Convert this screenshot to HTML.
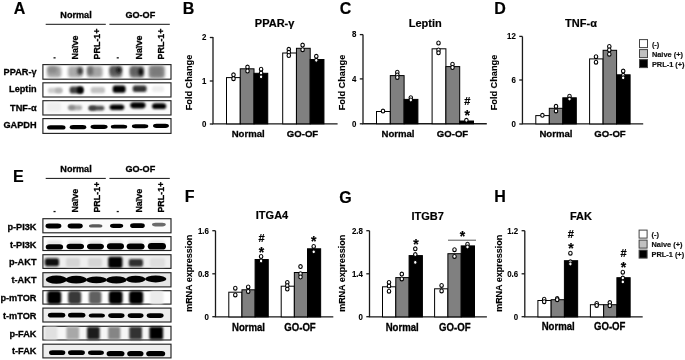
<!DOCTYPE html>
<html><head><meta charset="utf-8"><style>
html,body{margin:0;padding:0;background:#fff;}
body{width:685px;height:360px;overflow:hidden;}
svg{display:block;font-family:"Liberation Sans", sans-serif;filter:blur(0.3px);}
</style></head><body>
<svg width="685" height="360" viewBox="0 0 685 360">
<rect width="685" height="360" fill="#fff"/>
<text x="13.8" y="14.0" font-size="16" text-anchor="start" font-weight="bold" fill="#000" stroke="#000" stroke-width="0.18">A</text>
<text x="182.8" y="14.0" font-size="16" text-anchor="start" font-weight="bold" fill="#000" stroke="#000" stroke-width="0.18">B</text>
<text x="339.8" y="14.0" font-size="16" text-anchor="start" font-weight="bold" fill="#000" stroke="#000" stroke-width="0.18">C</text>
<text x="494.2" y="14.0" font-size="16" text-anchor="start" font-weight="bold" fill="#000" stroke="#000" stroke-width="0.18">D</text>
<text x="13.0" y="181.6" font-size="16" text-anchor="start" font-weight="bold" fill="#000" stroke="#000" stroke-width="0.18">E</text>
<text x="184.8" y="202.4" font-size="16" text-anchor="start" font-weight="bold" fill="#000" stroke="#000" stroke-width="0.18">F</text>
<text x="339.2" y="202.6" font-size="16" text-anchor="start" font-weight="bold" fill="#000" stroke="#000" stroke-width="0.18">G</text>
<text x="494.3" y="202.4" font-size="16" text-anchor="start" font-weight="bold" fill="#000" stroke="#000" stroke-width="0.18">H</text>
<path d="M213 37 V123.85 H337.6" stroke="#1a1a1a" stroke-width="1.3" fill="none"/>
<path d="M209.8 37.5 H213" stroke="#1a1a1a" stroke-width="1.3"/>
<text transform="translate(206.4 40.3) scale(1 1.08)" font-size="7.9" text-anchor="end" font-weight="bold" fill="#000" stroke="#000" stroke-width="0.1">2</text>
<path d="M209.8 81 H213" stroke="#1a1a1a" stroke-width="1.3"/>
<text transform="translate(206.4 83.8) scale(1 1.08)" font-size="7.9" text-anchor="end" font-weight="bold" fill="#000" stroke="#000" stroke-width="0.1">1</text>
<path d="M209.8 124 H213" stroke="#1a1a1a" stroke-width="1.3"/>
<text transform="translate(206.4 126.8) scale(1 1.08)" font-size="7.9" text-anchor="end" font-weight="bold" fill="#000" stroke="#000" stroke-width="0.1">0</text>
<rect x="226.50" y="77.60" width="13.75" height="46.25" fill="#fff" stroke="#000" stroke-width="1"/>
<rect x="240.25" y="68.80" width="13.75" height="55.05" fill="#808080" stroke="#000" stroke-width="1"/>
<rect x="254.00" y="73.30" width="13.75" height="50.55" fill="#000" stroke="#000" stroke-width="1"/>
<rect x="282.70" y="53.00" width="13.75" height="70.85" fill="#fff" stroke="#000" stroke-width="1"/>
<rect x="296.45" y="48.30" width="13.75" height="75.55" fill="#808080" stroke="#000" stroke-width="1"/>
<rect x="310.20" y="59.50" width="13.75" height="64.35" fill="#000" stroke="#000" stroke-width="1"/>
<ellipse cx="233.5" cy="74.8" rx="1.75" ry="1.95" fill="#fff" stroke="#000" stroke-width="1.1"/>
<ellipse cx="233.5" cy="78.7" rx="1.75" ry="1.95" fill="#fff" stroke="#000" stroke-width="1.1"/>
<ellipse cx="247.5" cy="67.1" rx="1.75" ry="1.95" fill="#fff" stroke="#000" stroke-width="1.1"/>
<ellipse cx="247.5" cy="71" rx="1.75" ry="1.95" fill="#fff" stroke="#000" stroke-width="1.1"/>
<ellipse cx="261.1" cy="69.2" rx="1.75" ry="1.95" fill="#fff" stroke="#000" stroke-width="1.1"/>
<ellipse cx="261.1" cy="73.1" rx="1.75" ry="1.95" fill="#fff" stroke="#000" stroke-width="1.1"/>
<ellipse cx="261.1" cy="76.8" rx="1.75" ry="1.95" fill="#fff" stroke="#000" stroke-width="1.1"/>
<ellipse cx="288.8" cy="49.3" rx="1.75" ry="1.95" fill="#fff" stroke="#000" stroke-width="1.1"/>
<ellipse cx="288.8" cy="52.3" rx="1.75" ry="1.95" fill="#fff" stroke="#000" stroke-width="1.1"/>
<ellipse cx="288.8" cy="55.5" rx="1.75" ry="1.95" fill="#fff" stroke="#000" stroke-width="1.1"/>
<ellipse cx="302.6" cy="45.1" rx="1.75" ry="1.95" fill="#fff" stroke="#000" stroke-width="1.1"/>
<ellipse cx="302.6" cy="49.7" rx="1.75" ry="1.95" fill="#fff" stroke="#000" stroke-width="1.1"/>
<ellipse cx="316.3" cy="56.3" rx="1.75" ry="1.95" fill="#fff" stroke="#000" stroke-width="1.1"/>
<ellipse cx="316.3" cy="60.3" rx="1.75" ry="1.95" fill="#fff" stroke="#000" stroke-width="1.1"/>
<text x="274.6" y="27" font-size="11" text-anchor="middle" font-weight="bold" fill="#000" stroke="#000" stroke-width="0.18">PPAR-&#947;</text>
<text transform="translate(191.6 82.5) rotate(-90) scale(1 1.08)" font-size="9.2" text-anchor="middle" font-weight="bold" fill="#000" stroke="#000" stroke-width="0.12">Fold Change</text>
<text transform="translate(248.2 137.2) scale(1 1.04)" font-size="9.6" text-anchor="middle" font-weight="bold" fill="#000" stroke="#000" stroke-width="0.28">Normal</text>
<text transform="translate(302.5 137.2) scale(1 1.04)" font-size="9.6" text-anchor="middle" font-weight="bold" fill="#000" stroke="#000" stroke-width="0.28">GO-OF</text>
<path d="M363 34.6 V123.75 H486.8" stroke="#1a1a1a" stroke-width="1.3" fill="none"/>
<path d="M359.8 34.6 H363" stroke="#1a1a1a" stroke-width="1.3"/>
<text transform="translate(356.4 37.4) scale(1 1.08)" font-size="7.9" text-anchor="end" font-weight="bold" fill="#000" stroke="#000" stroke-width="0.1">8</text>
<path d="M359.8 78.9 H363" stroke="#1a1a1a" stroke-width="1.3"/>
<text transform="translate(356.4 81.7) scale(1 1.08)" font-size="7.9" text-anchor="end" font-weight="bold" fill="#000" stroke="#000" stroke-width="0.1">4</text>
<path d="M359.8 123.8 H363" stroke="#1a1a1a" stroke-width="1.3"/>
<text transform="translate(356.4 126.6) scale(1 1.08)" font-size="7.9" text-anchor="end" font-weight="bold" fill="#000" stroke="#000" stroke-width="0.1">0</text>
<rect x="376.50" y="111.50" width="13.80" height="12.25" fill="#fff" stroke="#000" stroke-width="1"/>
<rect x="390.30" y="75.60" width="13.80" height="48.15" fill="#808080" stroke="#000" stroke-width="1"/>
<rect x="404.10" y="99.40" width="13.80" height="24.35" fill="#000" stroke="#000" stroke-width="1"/>
<rect x="432.10" y="48.80" width="13.80" height="74.95" fill="#fff" stroke="#000" stroke-width="1"/>
<rect x="445.90" y="66.60" width="13.80" height="57.15" fill="#808080" stroke="#000" stroke-width="1"/>
<rect x="459.70" y="121.00" width="13.80" height="2.75" fill="#000" stroke="#000" stroke-width="1"/>
<ellipse cx="383" cy="111.1" rx="1.75" ry="1.95" fill="#fff" stroke="#000" stroke-width="1.1"/>
<ellipse cx="397.3" cy="72.2" rx="1.75" ry="1.95" fill="#fff" stroke="#000" stroke-width="1.1"/>
<ellipse cx="397.3" cy="75" rx="1.75" ry="1.95" fill="#fff" stroke="#000" stroke-width="1.1"/>
<ellipse cx="397.3" cy="77.4" rx="1.75" ry="1.95" fill="#fff" stroke="#000" stroke-width="1.1"/>
<ellipse cx="410.8" cy="97.7" rx="1.75" ry="1.95" fill="#fff" stroke="#000" stroke-width="1.1"/>
<ellipse cx="410.8" cy="100" rx="1.75" ry="1.95" fill="#fff" stroke="#000" stroke-width="1.1"/>
<ellipse cx="438.5" cy="43" rx="1.75" ry="1.95" fill="#fff" stroke="#000" stroke-width="1.1"/>
<ellipse cx="438.5" cy="50" rx="1.75" ry="1.95" fill="#fff" stroke="#000" stroke-width="1.1"/>
<ellipse cx="438.5" cy="52.8" rx="1.75" ry="1.95" fill="#fff" stroke="#000" stroke-width="1.1"/>
<ellipse cx="452.5" cy="64.2" rx="1.75" ry="1.95" fill="#fff" stroke="#000" stroke-width="1.1"/>
<ellipse cx="452.5" cy="67.5" rx="1.75" ry="1.95" fill="#fff" stroke="#000" stroke-width="1.1"/>
<ellipse cx="466.4" cy="120.3" rx="1.75" ry="1.95" fill="#fff" stroke="#000" stroke-width="1.1"/>
<text x="425.2" y="26.9" font-size="11" text-anchor="middle" font-weight="bold" fill="#000" stroke="#000" stroke-width="0.18">Leptin</text>
<text transform="translate(345.2 82.5) rotate(-90) scale(1 1.08)" font-size="9.2" text-anchor="middle" font-weight="bold" fill="#000" stroke="#000" stroke-width="0.12">Fold Change</text>
<text transform="translate(398 137.2) scale(1 1.04)" font-size="9.6" text-anchor="middle" font-weight="bold" fill="#000" stroke="#000" stroke-width="0.28">Normal</text>
<text transform="translate(452.5 137.2) scale(1 1.04)" font-size="9.6" text-anchor="middle" font-weight="bold" fill="#000" stroke="#000" stroke-width="0.28">GO-OF</text>
<text x="467.4" y="104.89999999999999" font-size="11" text-anchor="middle" font-weight="bold" fill="#000" stroke="#000" stroke-width="0.18">#</text>
<text x="467.29999999999995" y="119.5" font-size="14" text-anchor="middle" font-weight="bold" fill="#000" stroke="#000" stroke-width="0.18">*</text>
<path d="M522.45 36.4 V123.9 H643.2" stroke="#1a1a1a" stroke-width="1.3" fill="none"/>
<path d="M519.25 36.4 H522.45" stroke="#1a1a1a" stroke-width="1.3"/>
<text transform="translate(515.85 39.199999999999996) scale(1 1.08)" font-size="7.9" text-anchor="end" font-weight="bold" fill="#000" stroke="#000" stroke-width="0.1">12</text>
<path d="M519.25 80 H522.45" stroke="#1a1a1a" stroke-width="1.3"/>
<text transform="translate(515.85 82.8) scale(1 1.08)" font-size="7.9" text-anchor="end" font-weight="bold" fill="#000" stroke="#000" stroke-width="0.1">6</text>
<path d="M519.25 124 H522.45" stroke="#1a1a1a" stroke-width="1.3"/>
<text transform="translate(515.85 126.8) scale(1 1.08)" font-size="7.9" text-anchor="end" font-weight="bold" fill="#000" stroke="#000" stroke-width="0.1">0</text>
<rect x="535.80" y="115.60" width="13.50" height="8.30" fill="#fff" stroke="#000" stroke-width="1"/>
<rect x="549.30" y="108.30" width="13.50" height="15.60" fill="#808080" stroke="#000" stroke-width="1"/>
<rect x="562.80" y="97.80" width="13.50" height="26.10" fill="#000" stroke="#000" stroke-width="1"/>
<rect x="589.60" y="58.90" width="13.50" height="65.00" fill="#fff" stroke="#000" stroke-width="1"/>
<rect x="603.10" y="50.30" width="13.50" height="73.60" fill="#808080" stroke="#000" stroke-width="1"/>
<rect x="616.60" y="74.80" width="13.50" height="49.10" fill="#000" stroke="#000" stroke-width="1"/>
<ellipse cx="542.4" cy="115.3" rx="1.75" ry="1.95" fill="#fff" stroke="#000" stroke-width="1.1"/>
<ellipse cx="556" cy="106.3" rx="1.75" ry="1.95" fill="#fff" stroke="#000" stroke-width="1.1"/>
<ellipse cx="556" cy="110.9" rx="1.75" ry="1.95" fill="#fff" stroke="#000" stroke-width="1.1"/>
<ellipse cx="569.5" cy="96.2" rx="1.75" ry="1.95" fill="#fff" stroke="#000" stroke-width="1.1"/>
<ellipse cx="569.5" cy="99.1" rx="1.75" ry="1.95" fill="#fff" stroke="#000" stroke-width="1.1"/>
<ellipse cx="596" cy="56.7" rx="1.75" ry="1.95" fill="#fff" stroke="#000" stroke-width="1.1"/>
<ellipse cx="596" cy="62.2" rx="1.75" ry="1.95" fill="#fff" stroke="#000" stroke-width="1.1"/>
<ellipse cx="609.3" cy="46.4" rx="1.75" ry="1.95" fill="#fff" stroke="#000" stroke-width="1.1"/>
<ellipse cx="609.3" cy="50" rx="1.75" ry="1.95" fill="#fff" stroke="#000" stroke-width="1.1"/>
<ellipse cx="609.3" cy="54.2" rx="1.75" ry="1.95" fill="#fff" stroke="#000" stroke-width="1.1"/>
<ellipse cx="623.2" cy="71.1" rx="1.75" ry="1.95" fill="#fff" stroke="#000" stroke-width="1.1"/>
<ellipse cx="623.2" cy="75.3" rx="1.75" ry="1.95" fill="#fff" stroke="#000" stroke-width="1.1"/>
<ellipse cx="623.2" cy="77.8" rx="1.75" ry="1.95" fill="#fff" stroke="#000" stroke-width="1.1"/>
<text x="581" y="27" font-size="11" text-anchor="middle" font-weight="bold" fill="#000" stroke="#000" stroke-width="0.18">TNF-&#945;</text>
<text transform="translate(496.9 82.5) rotate(-90) scale(1 1.08)" font-size="9.2" text-anchor="middle" font-weight="bold" fill="#000" stroke="#000" stroke-width="0.12">Fold Change</text>
<text transform="translate(555.9 137.2) scale(1 1.04)" font-size="9.6" text-anchor="middle" font-weight="bold" fill="#000" stroke="#000" stroke-width="0.28">Normal</text>
<text transform="translate(610 137.2) scale(1 1.04)" font-size="9.6" text-anchor="middle" font-weight="bold" fill="#000" stroke="#000" stroke-width="0.28">GO-OF</text>
<rect x="639.5" y="39.6" width="8" height="8" fill="#fff" stroke="#444" stroke-width="1"/>
<text x="651.9" y="46.6" font-size="7.4" text-anchor="start" font-weight="bold" fill="#111" stroke="#111" stroke-width="0.18">(-)</text>
<rect x="639.5" y="49.6" width="8" height="8" fill="#c0c0c0" stroke="#444" stroke-width="1"/>
<text x="651.9" y="56.6" font-size="7.4" text-anchor="start" font-weight="bold" fill="#111" stroke="#111" stroke-width="0.18">Naive (+)</text>
<rect x="639.5" y="59.6" width="8" height="8" fill="#000" stroke="#444" stroke-width="1"/>
<text x="651.9" y="66.6" font-size="7.4" text-anchor="start" font-weight="bold" fill="#111" stroke="#111" stroke-width="0.18">PRL-1 (+)</text>
<path d="M215.5 230.7 V316.9 H333.3" stroke="#1a1a1a" stroke-width="1.3" fill="none"/>
<path d="M212.3 230.7 H215.5" stroke="#1a1a1a" stroke-width="1.3"/>
<text transform="translate(208.9 233.5) scale(1 1.08)" font-size="7.9" text-anchor="end" font-weight="bold" fill="#000" stroke="#000" stroke-width="0.1">1.6</text>
<path d="M212.3 273.8 H215.5" stroke="#1a1a1a" stroke-width="1.3"/>
<text transform="translate(208.9 276.6) scale(1 1.08)" font-size="7.9" text-anchor="end" font-weight="bold" fill="#000" stroke="#000" stroke-width="0.1">0.8</text>
<path d="M212.3 316.7 H215.5" stroke="#1a1a1a" stroke-width="1.3"/>
<text transform="translate(208.9 319.5) scale(1 1.08)" font-size="7.9" text-anchor="end" font-weight="bold" fill="#000" stroke="#000" stroke-width="0.1">0</text>
<rect x="228.80" y="292.20" width="13.15" height="24.70" fill="#fff" stroke="#000" stroke-width="1"/>
<rect x="241.95" y="289.80" width="13.15" height="27.10" fill="#808080" stroke="#000" stroke-width="1"/>
<rect x="255.10" y="259.50" width="13.15" height="57.40" fill="#000" stroke="#000" stroke-width="1"/>
<rect x="281.20" y="286.20" width="13.15" height="30.70" fill="#fff" stroke="#000" stroke-width="1"/>
<rect x="294.35" y="272.50" width="13.15" height="44.40" fill="#808080" stroke="#000" stroke-width="1"/>
<rect x="307.50" y="248.80" width="13.15" height="68.10" fill="#000" stroke="#000" stroke-width="1"/>
<ellipse cx="235.3" cy="288.2" rx="1.75" ry="1.95" fill="#fff" stroke="#000" stroke-width="1.1"/>
<ellipse cx="235.3" cy="294.9" rx="1.75" ry="1.95" fill="#fff" stroke="#000" stroke-width="1.1"/>
<ellipse cx="248.2" cy="286.9" rx="1.75" ry="1.95" fill="#fff" stroke="#000" stroke-width="1.1"/>
<ellipse cx="248.2" cy="291.4" rx="1.75" ry="1.95" fill="#fff" stroke="#000" stroke-width="1.1"/>
<ellipse cx="261.1" cy="256.5" rx="1.75" ry="1.95" fill="#fff" stroke="#000" stroke-width="1.1"/>
<ellipse cx="261.1" cy="261" rx="1.75" ry="1.95" fill="#fff" stroke="#000" stroke-width="1.1"/>
<ellipse cx="287.3" cy="282.4" rx="1.75" ry="1.95" fill="#fff" stroke="#000" stroke-width="1.1"/>
<ellipse cx="287.3" cy="285.75" rx="1.75" ry="1.95" fill="#fff" stroke="#000" stroke-width="1.1"/>
<ellipse cx="287.3" cy="289.1" rx="1.75" ry="1.95" fill="#fff" stroke="#000" stroke-width="1.1"/>
<ellipse cx="300.5" cy="266.6" rx="1.75" ry="1.95" fill="#fff" stroke="#000" stroke-width="1.1"/>
<ellipse cx="300.5" cy="273.7" rx="1.75" ry="1.95" fill="#fff" stroke="#000" stroke-width="1.1"/>
<ellipse cx="300.5" cy="277" rx="1.75" ry="1.95" fill="#fff" stroke="#000" stroke-width="1.1"/>
<ellipse cx="313.7" cy="246.4" rx="1.75" ry="1.95" fill="#fff" stroke="#000" stroke-width="1.1"/>
<ellipse cx="313.7" cy="251.8" rx="1.75" ry="1.95" fill="#fff" stroke="#000" stroke-width="1.1"/>
<text x="272" y="218.9" font-size="11" text-anchor="middle" font-weight="bold" fill="#000" stroke="#000" stroke-width="0.18">ITGA4</text>
<text transform="translate(191.5 273.3) rotate(-90) scale(1 1.08)" font-size="9" text-anchor="middle" font-weight="bold" fill="#000" stroke="#000" stroke-width="0.12">mRNA expression</text>
<text transform="translate(248.5 330.7) scale(1 1.05)" font-size="9.6" text-anchor="middle" font-weight="bold" fill="#000" stroke="#000" stroke-width="0.28">Normal</text>
<text transform="translate(300 330.7) scale(1 1.05)" font-size="9.6" text-anchor="middle" font-weight="bold" fill="#000" stroke="#000" stroke-width="0.28">GO-OF</text>
<text x="261.5" y="241.79999999999998" font-size="11" text-anchor="middle" font-weight="bold" fill="#000" stroke="#000" stroke-width="0.18">#</text>
<text x="261.5" y="256.6" font-size="14" text-anchor="middle" font-weight="bold" fill="#000" stroke="#000" stroke-width="0.18">*</text>
<text x="313.7" y="245.9" font-size="14" text-anchor="middle" font-weight="bold" fill="#000" stroke="#000" stroke-width="0.18">*</text>
<path d="M369.5 230.7 V316.9 H486.9" stroke="#1a1a1a" stroke-width="1.3" fill="none"/>
<path d="M366.3 230.7 H369.5" stroke="#1a1a1a" stroke-width="1.3"/>
<text transform="translate(362.9 233.5) scale(1 1.08)" font-size="7.9" text-anchor="end" font-weight="bold" fill="#000" stroke="#000" stroke-width="0.1">2.8</text>
<path d="M366.3 273.8 H369.5" stroke="#1a1a1a" stroke-width="1.3"/>
<text transform="translate(362.9 276.6) scale(1 1.08)" font-size="7.9" text-anchor="end" font-weight="bold" fill="#000" stroke="#000" stroke-width="0.1">1.4</text>
<path d="M366.3 316.7 H369.5" stroke="#1a1a1a" stroke-width="1.3"/>
<text transform="translate(362.9 319.5) scale(1 1.08)" font-size="7.9" text-anchor="end" font-weight="bold" fill="#000" stroke="#000" stroke-width="0.1">0</text>
<rect x="382.50" y="286.80" width="13.30" height="30.10" fill="#fff" stroke="#000" stroke-width="1"/>
<rect x="395.80" y="277.60" width="13.30" height="39.30" fill="#808080" stroke="#000" stroke-width="1"/>
<rect x="409.10" y="255.60" width="13.30" height="61.30" fill="#000" stroke="#000" stroke-width="1"/>
<rect x="434.60" y="288.80" width="13.30" height="28.10" fill="#fff" stroke="#000" stroke-width="1"/>
<rect x="447.90" y="253.70" width="13.30" height="63.20" fill="#808080" stroke="#000" stroke-width="1"/>
<rect x="461.20" y="245.90" width="13.30" height="71.00" fill="#000" stroke="#000" stroke-width="1"/>
<ellipse cx="389" cy="282.4" rx="1.75" ry="1.95" fill="#fff" stroke="#000" stroke-width="1.1"/>
<ellipse cx="389" cy="286.1" rx="1.75" ry="1.95" fill="#fff" stroke="#000" stroke-width="1.1"/>
<ellipse cx="389" cy="291.2" rx="1.75" ry="1.95" fill="#fff" stroke="#000" stroke-width="1.1"/>
<ellipse cx="401.8" cy="274.1" rx="1.75" ry="1.95" fill="#fff" stroke="#000" stroke-width="1.1"/>
<ellipse cx="401.8" cy="278.9" rx="1.75" ry="1.95" fill="#fff" stroke="#000" stroke-width="1.1"/>
<ellipse cx="415.3" cy="248.8" rx="1.75" ry="1.95" fill="#fff" stroke="#000" stroke-width="1.1"/>
<ellipse cx="415.3" cy="254.6" rx="1.75" ry="1.95" fill="#fff" stroke="#000" stroke-width="1.1"/>
<ellipse cx="415.3" cy="262.4" rx="1.75" ry="1.95" fill="#fff" stroke="#000" stroke-width="1.1"/>
<ellipse cx="441.6" cy="285.4" rx="1.75" ry="1.95" fill="#fff" stroke="#000" stroke-width="1.1"/>
<ellipse cx="441.6" cy="290.9" rx="1.75" ry="1.95" fill="#fff" stroke="#000" stroke-width="1.1"/>
<ellipse cx="454.5" cy="249.7" rx="1.75" ry="1.95" fill="#fff" stroke="#000" stroke-width="1.1"/>
<ellipse cx="454.5" cy="256.4" rx="1.75" ry="1.95" fill="#fff" stroke="#000" stroke-width="1.1"/>
<ellipse cx="467.5" cy="244.2" rx="1.75" ry="1.95" fill="#fff" stroke="#000" stroke-width="1.1"/>
<ellipse cx="467.5" cy="247" rx="1.75" ry="1.95" fill="#fff" stroke="#000" stroke-width="1.1"/>
<text x="427.6" y="220.2" font-size="11" text-anchor="middle" font-weight="bold" fill="#000" stroke="#000" stroke-width="0.18">ITGB7</text>
<text transform="translate(345 273.3) rotate(-90) scale(1 1.08)" font-size="9" text-anchor="middle" font-weight="bold" fill="#000" stroke="#000" stroke-width="0.12">mRNA expression</text>
<text transform="translate(402.2 330.5) scale(1 1.05)" font-size="9.6" text-anchor="middle" font-weight="bold" fill="#000" stroke="#000" stroke-width="0.28">Normal</text>
<text transform="translate(454.8 330.5) scale(1 1.05)" font-size="9.6" text-anchor="middle" font-weight="bold" fill="#000" stroke="#000" stroke-width="0.28">GO-OF</text>
<text x="415.9" y="249.0" font-size="14" text-anchor="middle" font-weight="bold" fill="#000" stroke="#000" stroke-width="0.18">*</text>
<text x="462.4" y="241.3" font-size="14" text-anchor="middle" font-weight="bold" fill="#000" stroke="#000" stroke-width="0.18">*</text>
<path d="M448 240.2 H476" stroke="#555" stroke-width="1" fill="none"/>
<path d="M524.8 230.7 V316.9 H642.7" stroke="#1a1a1a" stroke-width="1.3" fill="none"/>
<path d="M521.5999999999999 230.7 H524.8" stroke="#1a1a1a" stroke-width="1.3"/>
<text transform="translate(518.1999999999999 233.5) scale(1 1.08)" font-size="7.9" text-anchor="end" font-weight="bold" fill="#000" stroke="#000" stroke-width="0.1">1.2</text>
<path d="M521.5999999999999 273.8 H524.8" stroke="#1a1a1a" stroke-width="1.3"/>
<text transform="translate(518.1999999999999 276.6) scale(1 1.08)" font-size="7.9" text-anchor="end" font-weight="bold" fill="#000" stroke="#000" stroke-width="0.1">0.6</text>
<path d="M521.5999999999999 316.7 H524.8" stroke="#1a1a1a" stroke-width="1.3"/>
<text transform="translate(518.1999999999999 319.5) scale(1 1.08)" font-size="7.9" text-anchor="end" font-weight="bold" fill="#000" stroke="#000" stroke-width="0.1">0</text>
<rect x="537.90" y="300.50" width="13.25" height="16.40" fill="#fff" stroke="#000" stroke-width="1"/>
<rect x="551.15" y="299.70" width="13.25" height="17.20" fill="#808080" stroke="#000" stroke-width="1"/>
<rect x="564.40" y="260.70" width="13.25" height="56.20" fill="#000" stroke="#000" stroke-width="1"/>
<rect x="590.40" y="304.70" width="13.25" height="12.20" fill="#fff" stroke="#000" stroke-width="1"/>
<rect x="603.65" y="304.70" width="13.25" height="12.20" fill="#808080" stroke="#000" stroke-width="1"/>
<rect x="616.90" y="277.70" width="13.25" height="39.20" fill="#000" stroke="#000" stroke-width="1"/>
<ellipse cx="544.2" cy="299.2" rx="1.75" ry="1.95" fill="#fff" stroke="#000" stroke-width="1.1"/>
<ellipse cx="544.2" cy="301.7" rx="1.75" ry="1.95" fill="#fff" stroke="#000" stroke-width="1.1"/>
<ellipse cx="557.2" cy="298.6" rx="1.75" ry="1.95" fill="#fff" stroke="#000" stroke-width="1.1"/>
<ellipse cx="557.2" cy="299.7" rx="1.75" ry="1.95" fill="#fff" stroke="#000" stroke-width="1.1"/>
<ellipse cx="570.4" cy="253.2" rx="1.75" ry="1.95" fill="#fff" stroke="#000" stroke-width="1.1"/>
<ellipse cx="570.4" cy="261.8" rx="1.75" ry="1.95" fill="#fff" stroke="#000" stroke-width="1.1"/>
<ellipse cx="570.4" cy="264" rx="1.75" ry="1.95" fill="#fff" stroke="#000" stroke-width="1.1"/>
<ellipse cx="596.7" cy="303.4" rx="1.75" ry="1.95" fill="#fff" stroke="#000" stroke-width="1.1"/>
<ellipse cx="596.7" cy="305.4" rx="1.75" ry="1.95" fill="#fff" stroke="#000" stroke-width="1.1"/>
<ellipse cx="609.8" cy="302.6" rx="1.75" ry="1.95" fill="#fff" stroke="#000" stroke-width="1.1"/>
<ellipse cx="609.8" cy="305.7" rx="1.75" ry="1.95" fill="#fff" stroke="#000" stroke-width="1.1"/>
<ellipse cx="622.8" cy="272.2" rx="1.75" ry="1.95" fill="#fff" stroke="#000" stroke-width="1.1"/>
<ellipse cx="622.8" cy="278.1" rx="1.75" ry="1.95" fill="#fff" stroke="#000" stroke-width="1.1"/>
<ellipse cx="622.8" cy="281.9" rx="1.75" ry="1.95" fill="#fff" stroke="#000" stroke-width="1.1"/>
<text x="581" y="220.2" font-size="11" text-anchor="middle" font-weight="bold" fill="#000" stroke="#000" stroke-width="0.18">FAK</text>
<text transform="translate(501.6 273.3) rotate(-90) scale(1 1.08)" font-size="9" text-anchor="middle" font-weight="bold" fill="#000" stroke="#000" stroke-width="0.12">mRNA expression</text>
<text transform="translate(558.2 330.3) scale(1 1.05)" font-size="9.6" text-anchor="middle" font-weight="bold" fill="#000" stroke="#000" stroke-width="0.28">Normal</text>
<text transform="translate(609.7 330.3) scale(1 1.05)" font-size="9.6" text-anchor="middle" font-weight="bold" fill="#000" stroke="#000" stroke-width="0.28">GO-OF</text>
<text x="570.7" y="237.79999999999998" font-size="11" text-anchor="middle" font-weight="bold" fill="#000" stroke="#000" stroke-width="0.18">#</text>
<text x="570.9" y="252.9" font-size="14" text-anchor="middle" font-weight="bold" fill="#000" stroke="#000" stroke-width="0.18">*</text>
<text x="623.5" y="256.8" font-size="11" text-anchor="middle" font-weight="bold" fill="#000" stroke="#000" stroke-width="0.18">#</text>
<text x="623.4" y="271.8" font-size="14" text-anchor="middle" font-weight="bold" fill="#000" stroke="#000" stroke-width="0.18">*</text>
<rect x="639.1" y="230.1" width="8" height="8" fill="#fff" stroke="#444" stroke-width="1"/>
<text x="651.5" y="237.1" font-size="7.4" text-anchor="start" font-weight="bold" fill="#111" stroke="#111" stroke-width="0.18">(-)</text>
<rect x="639.1" y="240.1" width="8" height="8" fill="#c0c0c0" stroke="#444" stroke-width="1"/>
<text x="651.5" y="247.1" font-size="7.4" text-anchor="start" font-weight="bold" fill="#111" stroke="#111" stroke-width="0.18">Naive (+)</text>
<rect x="639.1" y="250.1" width="8" height="8" fill="#000" stroke="#444" stroke-width="1"/>
<text x="651.5" y="257.1" font-size="7.4" text-anchor="start" font-weight="bold" fill="#111" stroke="#111" stroke-width="0.18">PRL-1 (+)</text>
<defs><filter id="b0" x="-50%" y="-50%" width="200%" height="200%"><feGaussianBlur stdDeviation="0.5"/></filter><filter id="b1" x="-50%" y="-50%" width="200%" height="200%"><feGaussianBlur stdDeviation="0.9"/></filter><filter id="b2" x="-50%" y="-50%" width="200%" height="200%"><feGaussianBlur stdDeviation="1.5"/></filter><filter id="b3" x="-50%" y="-50%" width="200%" height="200%"><feGaussianBlur stdDeviation="2.2"/></filter></defs>
<text transform="translate(76 17.9) scale(1 1.08)" font-size="9.1" text-anchor="middle" font-weight="bold" fill="#000" stroke="#000" stroke-width="0.28">Normal</text>
<text transform="translate(140.3 17.9) scale(1 1.08)" font-size="9.1" text-anchor="middle" font-weight="bold" fill="#000" stroke="#000" stroke-width="0.28">GO-OF</text>
<path d="M45.7 24.3 H105.8 M109.4 24.3 H169.8" stroke="#111" stroke-width="1"/>
<rect x="53.5" y="57.2" width="2.1" height="1.3" fill="#111"/>
<text transform="translate(78.2 59.4) rotate(-90) scale(1 1.12)" font-size="8.9" text-anchor="start" font-weight="bold" fill="#000" stroke="#000" stroke-width="0.28">Na&#239;ve</text>
<text transform="translate(99.9 59.4) rotate(-90) scale(1 1.12)" font-size="8.9" text-anchor="start" font-weight="bold" fill="#000" stroke="#000" stroke-width="0.28">PRL-1+</text>
<rect x="116.7" y="57.2" width="2.1" height="1.3" fill="#111"/>
<text transform="translate(141.5 59.4) rotate(-90) scale(1 1.12)" font-size="8.9" text-anchor="start" font-weight="bold" fill="#000" stroke="#000" stroke-width="0.28">Na&#239;ve</text>
<text transform="translate(163.7 59.4) rotate(-90) scale(1 1.12)" font-size="8.9" text-anchor="start" font-weight="bold" fill="#000" stroke="#000" stroke-width="0.28">PRL-1+</text>
<text transform="translate(36.6 74.6) scale(1 1.03)" font-size="9.2" text-anchor="end" font-weight="bold" fill="#000" stroke="#000" stroke-width="0.28">PPAR-&#947;</text>
<text transform="translate(36.6 91.6) scale(1 1.03)" font-size="9.2" text-anchor="end" font-weight="bold" fill="#000" stroke="#000" stroke-width="0.28">Leptin</text>
<text transform="translate(36.6 110.9) scale(1 1.03)" font-size="9.2" text-anchor="end" font-weight="bold" fill="#000" stroke="#000" stroke-width="0.28">TNF-&#945;</text>
<text transform="translate(36.6 128.3) scale(1 1.03)" font-size="9.2" text-anchor="end" font-weight="bold" fill="#000" stroke="#000" stroke-width="0.28">GAPDH</text>
<rect x="42.9" y="64.60" width="128.1" height="14.60" fill="#fff" stroke="#222" stroke-width="1.15"/>
<rect x="47.0" y="66.2" width="14.3" height="11.3" rx="3.00" ry="3.00" fill="#a4a4a4" filter="url(#b2)"/>
<rect x="68.0" y="66.2" width="14.6" height="11.3" rx="3.00" ry="3.00" fill="#aaaaaa" filter="url(#b2)"/>
<rect x="87.0" y="66.2" width="15.5" height="11.3" rx="3.00" ry="3.00" fill="#a4a4a4" filter="url(#b2)"/>
<rect x="109.6" y="66.0" width="12.4" height="11.5" rx="3.00" ry="3.00" fill="#6a6a6a" filter="url(#b2)"/>
<rect x="129.8" y="66.0" width="14.2" height="11.8" rx="3.00" ry="3.00" fill="#747474" filter="url(#b2)"/>
<rect x="148.6" y="65.6" width="16.2" height="12.6" rx="3.00" ry="3.00" fill="#8a8a8a" filter="url(#b2)"/>
<rect x="48.0" y="66.5" width="9.0" height="6.5" rx="2.00" ry="2.00" fill="#8a8a8a" filter="url(#b2)"/>
<rect x="77.5" y="67.5" width="5.1" height="7.0" rx="2.00" ry="2.00" fill="#333" filter="url(#b2)"/>
<rect x="87.5" y="66.5" width="5.5" height="8.5" rx="2.00" ry="2.00" fill="#6a6a6a" filter="url(#b2)"/>
<rect x="110.0" y="67.0" width="7.0" height="7.0" rx="2.00" ry="2.00" fill="#555" filter="url(#b2)"/>
<rect x="116.5" y="67.0" width="4.8" height="6.0" rx="2.00" ry="2.00" fill="#0a0a0a" filter="url(#b2)"/>
<rect x="130.5" y="67.5" width="7.5" height="7.5" rx="2.00" ry="2.00" fill="#606060" filter="url(#b2)"/>
<rect x="138.5" y="68.0" width="4.5" height="7.5" rx="2.00" ry="2.00" fill="#000" filter="url(#b2)"/>
<rect x="151.0" y="67.0" width="11.0" height="9.0" rx="2.00" ry="2.00" fill="#7a7a7a" filter="url(#b2)"/>
<rect x="42.9" y="82.80" width="128.1" height="14.20" fill="#fff" stroke="#222" stroke-width="1.15"/>
<rect x="47.9" y="87.8" width="14.8" height="5.4" rx="2.50" ry="2.50" fill="#cecece" filter="url(#b1)"/>
<rect x="69.6" y="86.5" width="13.7" height="7.1" rx="2.50" ry="2.50" fill="#404040" filter="url(#b1)"/>
<rect x="90.7" y="87.1" width="14.3" height="6.1" rx="2.50" ry="2.50" fill="#c2c2c2" filter="url(#b1)"/>
<rect x="112.7" y="85.6" width="12.9" height="7.2" rx="2.50" ry="2.50" fill="#000" filter="url(#b1)"/>
<rect x="132.7" y="85.6" width="13.9" height="6.4" rx="2.50" ry="2.50" fill="#333" filter="url(#b1)"/>
<rect x="152.0" y="86.0" width="12.1" height="6.0" rx="2.50" ry="2.50" fill="#eeeeee" filter="url(#b1)"/>
<rect x="77.0" y="86.8" width="6.3" height="6.8" rx="2.50" ry="2.50" fill="#000" filter="url(#b1)"/>
<rect x="55.0" y="88.0" width="7.0" height="5.0" rx="2.00" ry="2.00" fill="#b4b4b4" filter="url(#b1)"/>
<rect x="42.9" y="100.70" width="128.1" height="14.30" fill="#fafafa" stroke="#222" stroke-width="1.15"/>
<rect x="47.0" y="102.5" width="14.0" height="9.0" rx="2.50" ry="2.50" fill="#eeeeee" filter="url(#b1)"/>
<rect x="68.0" y="105.3" width="14.2" height="4.9" rx="2.50" ry="2.45" fill="#aaaaaa" filter="url(#b1)"/>
<rect x="88.6" y="105.8" width="15.8" height="4.7" rx="2.50" ry="2.35" fill="#505050" filter="url(#b1)"/>
<rect x="68.5" y="105.5" width="6.5" height="4.3" rx="2.00" ry="2.00" fill="#8a8a8a" filter="url(#b1)"/>
<rect x="89.0" y="106.0" width="7.0" height="4.2" rx="2.00" ry="2.00" fill="#404040" filter="url(#b1)"/>
<rect x="109.6" y="104.4" width="14.7" height="5.6" rx="3.50" ry="2.80" fill="#000" filter="url(#b1)"/>
<rect x="130.2" y="102.2" width="15.4" height="6.2" rx="3.50" ry="3.10" fill="#000" filter="url(#b1)"/>
<rect x="152.0" y="103.3" width="14.2" height="5.7" rx="3.50" ry="2.85" fill="#000" filter="url(#b1)"/>
<rect x="42.9" y="118.60" width="128.1" height="14.80" fill="#fff" stroke="#222" stroke-width="1.15"/>
<rect x="47.1" y="125.2" width="18.4" height="4.4" rx="3.50" ry="2.20" fill="#000" filter="url(#b0)"/>
<rect x="69.7" y="125.1" width="16.6" height="4.2" rx="3.50" ry="2.10" fill="#000" filter="url(#b0)"/>
<rect x="90.5" y="124.8" width="17.1" height="4.1" rx="3.50" ry="2.05" fill="#000" filter="url(#b0)"/>
<rect x="110.8" y="124.7" width="16.4" height="3.9" rx="3.50" ry="1.95" fill="#000" filter="url(#b0)"/>
<rect x="131.9" y="124.3" width="16.4" height="3.9" rx="3.50" ry="1.95" fill="#000" filter="url(#b0)"/>
<rect x="153.0" y="123.8" width="15.9" height="4.1" rx="3.50" ry="2.05" fill="#000" filter="url(#b0)"/>
<text transform="translate(76 172.1) scale(1 1.08)" font-size="9.1" text-anchor="middle" font-weight="bold" fill="#000" stroke="#000" stroke-width="0.28">Normal</text>
<text transform="translate(140.3 172.1) scale(1 1.08)" font-size="9.1" text-anchor="middle" font-weight="bold" fill="#000" stroke="#000" stroke-width="0.28">GO-OF</text>
<path d="M45.7 178.4 H105.8 M109.4 178.4 H169.8" stroke="#111" stroke-width="1"/>
<rect x="53.5" y="210.9" width="2.1" height="1.3" fill="#111"/>
<text transform="translate(78.2 212.6) rotate(-90) scale(1 1.12)" font-size="8.9" text-anchor="start" font-weight="bold" fill="#000" stroke="#000" stroke-width="0.28">Na&#239;ve</text>
<text transform="translate(99.9 212.6) rotate(-90) scale(1 1.12)" font-size="8.9" text-anchor="start" font-weight="bold" fill="#000" stroke="#000" stroke-width="0.28">PRL-1+</text>
<rect x="116.7" y="210.9" width="2.1" height="1.3" fill="#111"/>
<text transform="translate(141.5 212.6) rotate(-90) scale(1 1.12)" font-size="8.9" text-anchor="start" font-weight="bold" fill="#000" stroke="#000" stroke-width="0.28">Na&#239;ve</text>
<text transform="translate(163.7 212.6) rotate(-90) scale(1 1.12)" font-size="8.9" text-anchor="start" font-weight="bold" fill="#000" stroke="#000" stroke-width="0.28">PRL-1+</text>
<text transform="translate(36.5 229.9) scale(1 1.03)" font-size="9.2" text-anchor="end" font-weight="bold" fill="#000" stroke="#000" stroke-width="0.28">p-PI3K</text>
<text transform="translate(36.5 247.5) scale(1 1.03)" font-size="9.2" text-anchor="end" font-weight="bold" fill="#000" stroke="#000" stroke-width="0.28">t-PI3K</text>
<text transform="translate(36.5 265.0) scale(1 1.03)" font-size="9.2" text-anchor="end" font-weight="bold" fill="#000" stroke="#000" stroke-width="0.28">p-AKT</text>
<text transform="translate(36.5 282.7) scale(1 1.03)" font-size="9.2" text-anchor="end" font-weight="bold" fill="#000" stroke="#000" stroke-width="0.28">t-AKT</text>
<text transform="translate(36.5 300.8) scale(1 1.03)" font-size="9.2" text-anchor="end" font-weight="bold" fill="#000" stroke="#000" stroke-width="0.28">p-mTOR</text>
<text transform="translate(36.5 318.5) scale(1 1.03)" font-size="9.2" text-anchor="end" font-weight="bold" fill="#000" stroke="#000" stroke-width="0.28">t-mTOR</text>
<text transform="translate(36.5 336.9) scale(1 1.03)" font-size="9.2" text-anchor="end" font-weight="bold" fill="#000" stroke="#000" stroke-width="0.28">p-FAK</text>
<text transform="translate(36.5 354.3) scale(1 1.03)" font-size="9.2" text-anchor="end" font-weight="bold" fill="#000" stroke="#000" stroke-width="0.28">t-FAK</text>
<rect x="42.9" y="218.70" width="128.1" height="14.10" fill="#fbfbfb" stroke="#222" stroke-width="1.15"/>
<rect x="45.5" y="223.5" width="15.9" height="4.9" rx="3.50" ry="2.45" fill="#000" filter="url(#b0)"/>
<rect x="67.6" y="223.5" width="15.2" height="4.9" rx="3.50" ry="2.45" fill="#000" filter="url(#b0)"/>
<rect x="110.0" y="223.8" width="13.2" height="4.1" rx="3.30" ry="2.05" fill="#000" filter="url(#b0)"/>
<rect x="130.1" y="223.3" width="14.7" height="4.7" rx="3.50" ry="2.35" fill="#000" filter="url(#b0)"/>
<rect x="89.0" y="224.2" width="13.4" height="3.4" rx="3.35" ry="1.70" fill="#5a5a5a" filter="url(#b0)"/>
<rect x="152.0" y="222.8" width="13.8" height="3.6" rx="3.45" ry="1.80" fill="#6a6a6a" filter="url(#b0)"/>
<rect x="42.9" y="236.60" width="128.1" height="13.90" fill="#fff" stroke="#222" stroke-width="1.15"/>
<rect x="46.7" y="240.5" width="15.4" height="4.5" rx="3.50" ry="2.25" fill="#e4e4e4" filter="url(#b2)"/>
<rect x="67.5" y="240.5" width="15.5" height="4.5" rx="3.50" ry="2.25" fill="#e4e4e4" filter="url(#b2)"/>
<rect x="88.0" y="240.5" width="14.9" height="4.5" rx="3.50" ry="2.25" fill="#e4e4e4" filter="url(#b2)"/>
<rect x="107.9" y="240.5" width="15.1" height="4.5" rx="3.50" ry="2.25" fill="#e4e4e4" filter="url(#b2)"/>
<rect x="127.6" y="240.5" width="16.0" height="4.5" rx="3.50" ry="2.25" fill="#e4e4e4" filter="url(#b2)"/>
<rect x="148.8" y="240.5" width="16.2" height="4.5" rx="3.50" ry="2.25" fill="#e4e4e4" filter="url(#b2)"/>
<rect x="45.7" y="244.3" width="17.4" height="5.2" rx="3.50" ry="2.60" fill="#000" filter="url(#b0)"/>
<rect x="66.5" y="243.8" width="17.5" height="5.5" rx="3.50" ry="2.75" fill="#000" filter="url(#b0)"/>
<rect x="87.0" y="243.8" width="16.9" height="5.6" rx="3.50" ry="2.80" fill="#000" filter="url(#b0)"/>
<rect x="106.9" y="243.2" width="17.1" height="6.3" rx="3.50" ry="3.15" fill="#000" filter="url(#b0)"/>
<rect x="126.6" y="243.6" width="18.0" height="5.9" rx="3.50" ry="2.95" fill="#000" filter="url(#b0)"/>
<rect x="147.8" y="242.9" width="18.2" height="6.7" rx="3.50" ry="3.35" fill="#000" filter="url(#b0)"/>
<rect x="42.9" y="254.70" width="128.1" height="13.70" fill="#efefef" stroke="#222" stroke-width="1.15"/>
<rect x="44.8" y="258.3" width="14.2" height="8.0" rx="2.00" ry="2.00" fill="#111" filter="url(#b1)"/>
<rect x="66.0" y="258.0" width="14.0" height="9.0" rx="2.00" ry="2.00" fill="#d5d5d5" filter="url(#b1)"/>
<rect x="88.0" y="258.0" width="14.0" height="9.0" rx="2.00" ry="2.00" fill="#d5d5d5" filter="url(#b1)"/>
<rect x="108.2" y="256.8" width="14.2" height="11.2" rx="2.00" ry="2.00" fill="#050505" filter="url(#b1)"/>
<rect x="128.8" y="258.9" width="14.2" height="7.9" rx="2.00" ry="2.00" fill="#2e2e2e" filter="url(#b1)"/>
<rect x="150.0" y="258.0" width="15.0" height="9.0" rx="2.00" ry="2.00" fill="#dedede" filter="url(#b1)"/>
<rect x="42.9" y="272.70" width="128.1" height="14.20" fill="#e6e6e6" stroke="#222" stroke-width="1.15"/>
<ellipse cx="56.4" cy="279.7" rx="10.6" ry="4.1" fill="#000" filter="url(#b0)"/>
<ellipse cx="76.2" cy="279.7" rx="10.8" ry="3.9" fill="#000" filter="url(#b0)"/>
<ellipse cx="96.4" cy="279.9" rx="10.4" ry="3.3" fill="#000" filter="url(#b0)"/>
<ellipse cx="116.3" cy="279.9" rx="10.3" ry="3.7" fill="#000" filter="url(#b0)"/>
<ellipse cx="135.7" cy="279.3" rx="9.9" ry="3.5" fill="#000" filter="url(#b0)"/>
<ellipse cx="155.7" cy="278.9" rx="10.7" ry="3.5" fill="#000" filter="url(#b0)"/>
<rect x="42.9" y="290.70" width="128.1" height="13.40" fill="#fff" stroke="#222" stroke-width="1.15"/>
<rect x="47.2" y="290.9" width="14.1" height="13.1" rx="3.00" ry="3.00" fill="#000" filter="url(#b1)"/>
<rect x="68.1" y="290.9" width="13.1" height="13.1" rx="3.00" ry="3.00" fill="#383838" filter="url(#b1)"/>
<rect x="88.9" y="290.9" width="12.5" height="13.1" rx="3.00" ry="3.00" fill="#606060" filter="url(#b1)"/>
<rect x="108.8" y="290.9" width="13.8" height="13.1" rx="3.00" ry="3.00" fill="#000" filter="url(#b1)"/>
<rect x="129.1" y="290.9" width="14.1" height="13.1" rx="3.00" ry="3.00" fill="#050505" filter="url(#b1)"/>
<rect x="149.9" y="290.9" width="13.7" height="13.1" rx="3.00" ry="3.00" fill="#ececec" filter="url(#b1)"/>
<rect x="42.9" y="308.10" width="128.1" height="13.90" fill="#eeeeee" stroke="#222" stroke-width="1.15"/>
<rect x="47.9" y="312.8" width="17.4" height="4.8" rx="3.50" ry="2.40" fill="#000" filter="url(#b0)"/>
<rect x="68.0" y="312.8" width="17.4" height="4.8" rx="3.50" ry="2.40" fill="#000" filter="url(#b0)"/>
<rect x="88.8" y="313.4" width="16.1" height="4.2" rx="3.50" ry="2.10" fill="#000" filter="url(#b0)"/>
<rect x="108.2" y="313.2" width="16.3" height="4.8" rx="3.50" ry="2.40" fill="#000" filter="url(#b0)"/>
<rect x="127.7" y="313.2" width="15.8" height="4.8" rx="3.50" ry="2.40" fill="#000" filter="url(#b0)"/>
<rect x="146.7" y="313.2" width="16.9" height="4.8" rx="3.50" ry="2.40" fill="#000" filter="url(#b0)"/>
<rect x="42.9" y="326.30" width="128.1" height="13.70" fill="#f6f6f6" stroke="#222" stroke-width="1.15"/>
<rect x="44.8" y="326.8" width="12.6" height="12.7" rx="1.50" ry="1.50" fill="#e0e0e0" filter="url(#b1)"/>
<rect x="66.4" y="326.8" width="12.7" height="12.7" rx="1.50" ry="1.50" fill="#a8a8a8" filter="url(#b1)"/>
<rect x="87.0" y="326.8" width="12.7" height="12.7" rx="1.50" ry="1.50" fill="#1e1e1e" filter="url(#b1)"/>
<rect x="108.2" y="326.8" width="12.1" height="12.7" rx="1.50" ry="1.50" fill="#858585" filter="url(#b1)"/>
<rect x="129.3" y="326.8" width="12.7" height="12.7" rx="1.50" ry="1.50" fill="#303030" filter="url(#b1)"/>
<rect x="149.4" y="326.8" width="13.7" height="12.7" rx="1.50" ry="1.50" fill="#000" filter="url(#b1)"/>
<rect x="42.9" y="344.20" width="128.1" height="13.70" fill="#eeeeee" stroke="#222" stroke-width="1.15"/>
<rect x="49.0" y="350.3" width="16.3" height="4.7" rx="3.50" ry="2.35" fill="#000" filter="url(#b0)"/>
<rect x="68.0" y="350.3" width="16.9" height="4.7" rx="3.50" ry="2.35" fill="#000" filter="url(#b0)"/>
<rect x="88.0" y="350.5" width="15.9" height="4.5" rx="3.50" ry="2.25" fill="#000" filter="url(#b0)"/>
<rect x="106.6" y="351.0" width="17.9" height="5.3" rx="3.50" ry="2.65" fill="#000" filter="url(#b0)"/>
<rect x="127.2" y="351.0" width="16.3" height="5.3" rx="3.50" ry="2.65" fill="#000" filter="url(#b0)"/>
<rect x="146.2" y="351.0" width="19.0" height="5.3" rx="3.50" ry="2.65" fill="#000" filter="url(#b0)"/>
</svg>
</body></html>
